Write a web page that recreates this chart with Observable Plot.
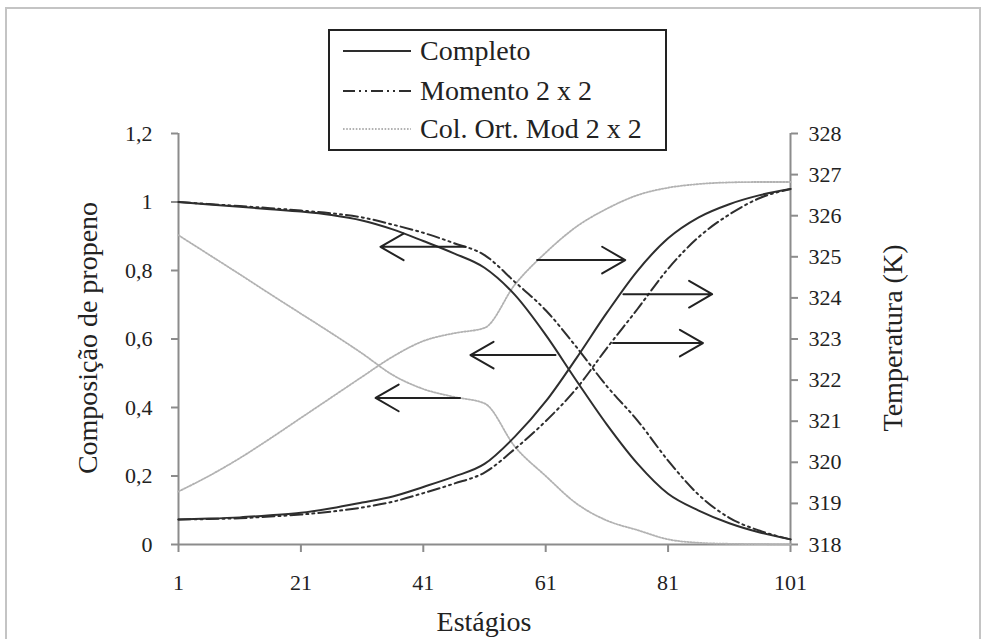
<!DOCTYPE html>
<html>
<head>
<meta charset="utf-8">
<script src="https://cdn.jsdelivr.net/npm/d3@7"></script>
<script src="https://cdn.jsdelivr.net/npm/@observablehq/plot@0.6"></script>
</head>
<body style="margin:0;background:#fff">
<div id="wrap" style='position:relative;width:989px;height:639px;background:#fff;color:#222;overflow:hidden;font-family:"Liberation Serif"'>
  <div style="position:absolute;left:5px;top:7px;width:976px;height:660px;border:2px solid #c4c4c4;box-sizing:border-box"></div>
  <div id="plot" style="position:absolute;left:0;top:0"></div>
  <div style='position:absolute;left:88px;top:338px;transform:translate(-50%,-50%) rotate(-90deg);white-space:nowrap;line-height:1;font-size:28px;font-family:"Liberation Serif"'>Composição de propeno</div>
  <div style='position:absolute;left:893px;top:338px;transform:translate(-50%,-50%) rotate(-90deg);white-space:nowrap;line-height:1;font-size:28px;font-family:"Liberation Serif"'>Temperatura (K)</div>
  <div style='position:absolute;left:484px;top:622px;transform:translate(-50%,-50%);white-space:nowrap;line-height:1;font-size:28px;font-family:"Liberation Serif"'>Estágios</div>
  <div id="legend" style="position:absolute;left:328px;top:29px;width:339px;height:122px;border:2px solid #222;box-sizing:border-box;background:#fff"></div>
</div>
<script>
// ---------- data ----------
const stages = [1, 6, 11, 16, 21, 26, 31, 36, 41, 46, 51, 56, 61, 66, 71, 76, 81, 86, 91, 96, 101];

// composition of propene (left axis)
const compCompleto = [1.000, 0.993, 0.986, 0.979, 0.972, 0.962, 0.946, 0.920, 0.886, 0.850, 0.808, 0.728, 0.612, 0.479, 0.350, 0.236, 0.148, 0.099, 0.062, 0.035, 0.015];
const compMomento  = [1.000, 0.994, 0.988, 0.982, 0.975, 0.967, 0.955, 0.934, 0.910, 0.880, 0.845, 0.766, 0.684, 0.577, 0.462, 0.362, 0.245, 0.145, 0.078, 0.040, 0.015];
const compColOrt   = [0.903, 0.846, 0.789, 0.731, 0.674, 0.617, 0.558, 0.495, 0.454, 0.431, 0.412, 0.285, 0.200, 0.120, 0.070, 0.042, 0.015, 0.005, 0.002, 0.001, 0.000];

// temperature in K (right axis)
const tempCompleto = [318.61, 318.63, 318.66, 318.71, 318.77, 318.88, 319.02, 319.17, 319.40, 319.65, 319.96, 320.63, 321.48, 322.53, 323.64, 324.66, 325.45, 325.96, 326.28, 326.50, 326.65];
const tempMomento  = [318.61, 318.62, 318.64, 318.68, 318.73, 318.80, 318.90, 319.04, 319.25, 319.48, 319.75, 320.33, 321.00, 321.79, 322.78, 323.73, 324.71, 325.48, 326.03, 326.43, 326.65];
const tempColOrt   = [319.29, 319.67, 320.10, 320.58, 321.08, 321.58, 322.08, 322.57, 322.95, 323.14, 323.27, 324.33, 325.10, 325.73, 326.17, 326.50, 326.68, 326.77, 326.81, 326.82, 326.82];

// axis ticks
const xTicks = [1, 21, 41, 61, 81, 101];
const yTicks = [0, 0.2, 0.4, 0.6, 0.8, 1, 1.2];
const tTicks = [318, 319, 320, 321, 322, 323, 324, 325, 326, 327, 328];

// annotation arrows (stage from -> to, value on their axis)
const arrowFrom  = [47.9, 59.6, 73.7, 72.0, 62.6, 47.0];
const arrowTo    = [34.0, 74.0, 88.2, 86.7, 48.7, 33.2];
const arrowValue = [0.869, 324.92, 324.09, 322.90, 0.553, 0.428];
const arrowAxis  = ["comp", "temp", "temp", "temp", "comp", "comp"];

// series names
const seriesNames = ["Completo", "Momento 2 x 2", "Col. Ort. Mod 2 x 2"];

// ---------- chart ----------
const tMin = 318, tMax = 328, yMax = 1.2;
const toY = T => (T - tMin) * yMax / (tMax - tMin);

const rows = stages.map((s, i) => ({
  s,
  cc: compCompleto[i], cm: compMomento[i], co: compColOrt[i],
  tc: toY(tempCompleto[i]), tm: toY(tempMomento[i]), to: toY(tempColOrt[i])
}));
const arrows = arrowFrom.map((x1, i) => ({
  x1, x2: arrowTo[i],
  y: arrowAxis[i] === "temp" ? toY(arrowValue[i]) : arrowValue[i]
}));

const styles = [
  {stroke: "#2e2e2e", strokeWidth: 2},
  {stroke: "#2e2e2e", strokeWidth: 2, strokeDasharray: "12,4,2,4,2,4"},
  {stroke: "#b2b2b2", strokeWidth: 1.8, strokeDasharray: "1.6,1.6"}
];
const axisGrey = "#8c8c8c";
const fmtComma = d => String(+d.toFixed(1)).replace(".", ",");

const chart = Plot.plot({
  width: 989,
  height: 639,
  marginLeft: 178,
  marginRight: 199,
  marginTop: 133,
  marginBottom: 95,
  style: {fontFamily: '"Liberation Serif"', fontSize: "22px", color: "#222"},
  x: {domain: [1, 101], label: null},
  y: {domain: [0, yMax], label: null},
  marks: [
    Plot.ruleX([1], {stroke: axisGrey, strokeWidth: 2}),
    Plot.ruleX([101], {stroke: axisGrey, strokeWidth: 2}),
    Plot.ruleY([0], {stroke: axisGrey, strokeWidth: 2}),
    Plot.axisX({ticks: xTicks, tickFormat: d => String(d), tickSize: 8, tickPadding: 22, stroke: axisGrey, strokeWidth: 2, fill: "#222", fontSize: 22, label: null}),
    Plot.axisY({ticks: yTicks, tickFormat: fmtComma, anchor: "left", tickSize: 7, tickPadding: 19, stroke: axisGrey, strokeWidth: 2, fill: "#222", fontSize: 22, label: null}),
    Plot.axisY({ticks: tTicks.map(toY), tickFormat: v => String(Math.round(v * (tMax - tMin) / yMax + tMin)), anchor: "right", tickSize: 7, tickPadding: 11, stroke: axisGrey, strokeWidth: 2, fill: "#222", fontSize: 22, label: null}),
    Plot.line(rows, {x: "s", y: "co", curve: "monotone-x", ...styles[2]}),
    Plot.line(rows, {x: "s", y: "to", curve: "monotone-x", ...styles[2]}),
    Plot.line(rows, {x: "s", y: "cm", curve: "monotone-x", ...styles[1]}),
    Plot.line(rows, {x: "s", y: "tm", curve: "monotone-x", ...styles[1]}),
    Plot.line(rows, {x: "s", y: "cc", curve: "monotone-x", ...styles[0]}),
    Plot.line(rows, {x: "s", y: "tc", curve: "monotone-x", ...styles[0]}),
    Plot.arrow(arrows, {x1: "x1", x2: "x2", y1: "y", y2: "y", stroke: "#222", strokeWidth: 2, headLength: 20, headAngle: 60, inset: 0, bend: 0})
  ]
});
chart.querySelectorAll("text").forEach(t => { t.setAttribute("font-family", "Liberation Serif"); t.style.fontFamily = '"Liberation Serif"'; });
document.getElementById("plot").appendChild(chart);

// ---------- legend ----------
const legend = document.getElementById("legend");
const rowTops = [2, 42, 80];
seriesNames.forEach((name, i) => {
  const row = document.createElement("div");
  row.style.cssText = `position:absolute;left:0;top:${rowTops[i]}px;height:36px;display:flex;align-items:center`;
  const st = styles[i];
  row.innerHTML = `<svg width="68" height="10" style="margin-left:13px;margin-right:9px"><line x1="0" x2="68" y1="5" y2="5" stroke="${st.stroke}" stroke-width="${st.strokeWidth}" ${st.strokeDasharray ? `stroke-dasharray="${st.strokeDasharray}"` : ""}/></svg>`;
  const span = document.createElement("span");
  span.style.fontSize = "28px";
  span.style.lineHeight = "1";
  span.style.fontFamily = '"Liberation Serif"';
  span.textContent = name;
  row.appendChild(span);
  legend.appendChild(row);
});
</script>
</body>
</html>
